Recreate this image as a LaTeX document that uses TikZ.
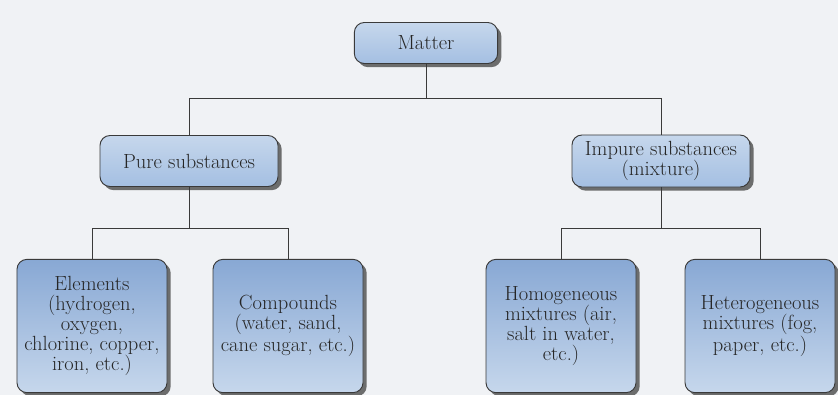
\documentclass[tikz,border=0pt]{standalone}
\usepackage{tikz}
\usetikzlibrary{shadows}
\usepackage{xcolor}

\definecolor{pagebg}{HTML}{F0F2F5}
\definecolor{edgegray}{HTML}{3A3A3A}
\definecolor{boxlight}{HTML}{C6D7EC}
\definecolor{boxmid}{HTML}{A4BFE2}
\definecolor{boxdark}{HTML}{88A8D4}

\tikzset{
  box/.style={draw=edgegray, line width=0.8pt, rounded corners=3mm,
    align=center, inner sep=2pt, text=black!85,
    font=\fontsize{17.5}{17}\selectfont,
    drop shadow={shadow xshift=1.1mm, shadow yshift=-1.1mm, fill=black!70, opacity=0.8}},
  topbox/.style={box, top color=boxlight, bottom color=boxmid},
  leafbox/.style={box, top color=boxdark, bottom color=boxlight,
    minimum width=45mm, minimum height=40mm},
  link/.style={draw=edgegray, line width=0.6pt}
}

\begin{document}
\begin{tikzpicture}[x=0.3mm, y=-0.3mm]
            \fill[pagebg] (0,0) rectangle (838,395);
            \useasboundingbox (0,0) rectangle (838,395);
            % top level
            \node[topbox, minimum width=43mm, minimum height=12.3mm] (matter) at (426,43) {Matter};
            \node[topbox, minimum width=53.4mm, minimum height=15.3mm] (pure) at (189,161) {Pure substances};
            \node[topbox, minimum width=53.4mm, minimum height=15.6mm] (impure) at (661,161) {Impure substances\\(mixture)};
            % leaves
            \node[leafbox] (elements) at (92,326) {Elements\\(hydrogen,\\oxygen,\\chlorine, copper,\\iron, etc.)};
            \node[leafbox] (compounds) at (288,326) {Compounds\\(water, sand,\\cane sugar, etc.)};
            \node[leafbox] (homog) at (561,326) {Homogeneous\\mixtures (air,\\salt in water,\\etc.)};
            \node[leafbox] (heterog) at (760,326) {Heterogeneous\\mixtures (fog,\\paper, etc.)};
            % connectors
            \draw[link] (matter.south) -- ++(0,34) coordinate (mj);
            \draw[link] (pure.north) |- (mj) -| (impure.north);
            \draw[link] (pure.south) -- ++(0,41) coordinate (pj);
            \draw[link] (elements.north) |- (pj) -| (compounds.north);
            \draw[link] (impure.south) -- ++(0,41) coordinate (ij);
            \draw[link] (homog.north) |- (ij) -| (heterog.north);
        \end{tikzpicture}
\end{document}
